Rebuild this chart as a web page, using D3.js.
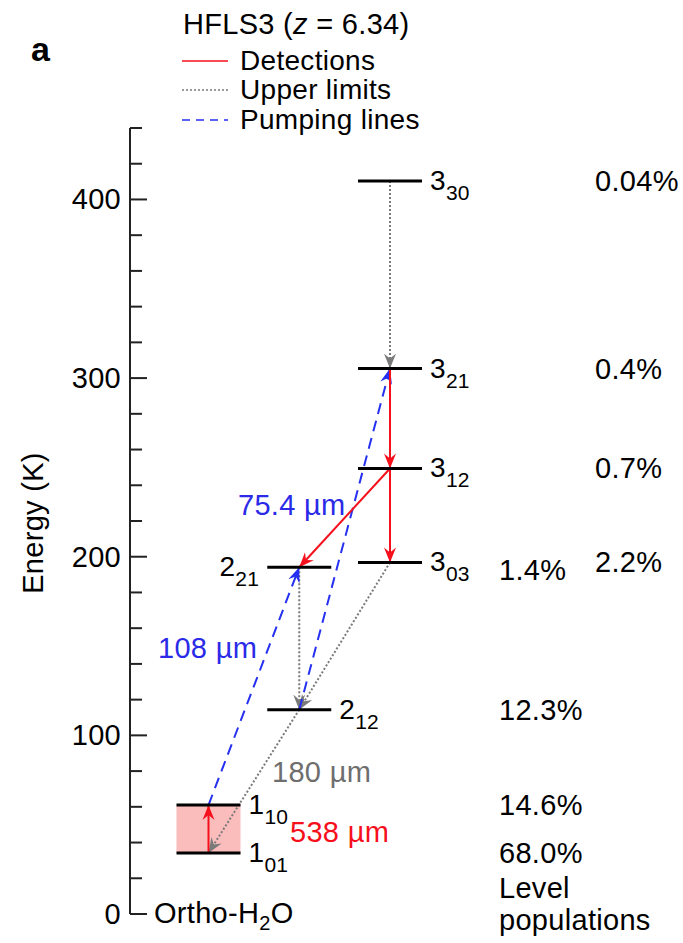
<!DOCTYPE html>
<html>
<head>
<meta charset="utf-8">
<script src="https://cdn.jsdelivr.net/npm/d3@7"></script>
<style>
  html, body { margin: 0; padding: 0; background: #fff; }
  svg { display: block; font-family: "Liberation Sans", Arial, Helvetica, sans-serif; }
  svg text { letter-spacing: 0.3px; }
</style>
</head>
<body>
<svg id="chart" width="683" height="943"></svg>
<script>
// Ortho-H2O rotational levels: name (J, Ka Kc), energy above ground (K), population
const levelJ     = ["1", "1", "2", "2", "3", "3", "3", "3"];
const levelSub   = ["01", "10", "12", "21", "03", "12", "21", "30"];
const levelE     = [34.2, 61.0, 114.4, 194.1, 196.8, 249.4, 305.3, 410.4];
const levelPop   = ["68.0%", "14.6%", "12.3%", "1.4%", "2.2%", "0.7%", "0.4%", "0.04%"];

// Transitions as [source level, target level] index pairs
const detections  = [[0, 1], [6, 5], [5, 4], [5, 3]];
const upperLimits = [[7, 6], [3, 2], [4, 2], [2, 0]];
const pumping     = [[1, 3], [2, 6]];

// Wavelength annotations: text, energy of label, colour class
const lineLabels = [
  { text: "75.4 µm", E: 229, kind: "pump" },
  { text: "108 µm",  E: 149, kind: "pump" },
  { text: "180 µm",  E: 79.5, kind: "limit" },
  { text: "538 µm",  E: 46, kind: "det" }
];

const yTicks = [0, 100, 200, 300, 400];
const yMinor = d3.range(0, 441, 20);

const colors = { det: "#f5101c", limit: "#7a7a7a", pump: "#2530f0" };
const labelColors = { det: "#f5101c", limit: "#6e6e6e", pump: "#2a2ae8" };

const svg = d3.select("#chart");
const y = d3.scaleLinear().domain([0, 440]).range([914, 128]);
const x = d3.scalePoint().domain(["1", "2", "3"]).range([208.5, 390]);
const halfW = 32;
const FS = 29;

const lx = i => x(levelJ[i]);
const ly = i => y(levelE[i]);

// Arrowhead markers
const defs = svg.append("defs");
Object.entries(colors).forEach(([k, c]) => {
  defs.append("marker")
    .attr("id", "arr-" + k)
    .attr("viewBox", "-15 -7 17 14")
    .attr("refX", 0).attr("refY", 0)
    .attr("markerWidth", 17).attr("markerHeight", 14)
    .attr("markerUnits", "userSpaceOnUse")
    .attr("orient", "auto")
    .append("path")
    .attr("d", "M0,0 L-15,-6 L-10,0 L-15,6 Z")
    .attr("fill", c);
});

// Panel letter
svg.append("text").attr("x", 31).attr("y", 61)
  .attr("font-size", 34).attr("font-weight", "bold").text("a");

// Y axis: inward ticks, major every 100 K, minor every 20 K
const axisG = svg.append("g");
axisG.append("line").attr("x1", 130).attr("x2", 130)
  .attr("y1", y(440)).attr("y2", y(0)).attr("stroke", "#222").attr("stroke-width", 2);
axisG.selectAll("line.minor").data(yMinor).join("line")
  .attr("class", "minor")
  .attr("x1", 130).attr("x2", d => d % 100 === 0 ? 147 : 142)
  .attr("y1", d => y(d)).attr("y2", d => y(d))
  .attr("stroke", "#222").attr("stroke-width", 2);
axisG.selectAll("text.tick").data(yTicks).join("text")
  .attr("class", "tick")
  .attr("x", 121).attr("y", d => y(d) + 10)
  .attr("text-anchor", "end").attr("font-size", FS).text(d => d);

svg.append("text")
  .attr("transform", `translate(43,${(y(0) + y(440)) / 2 + 2}) rotate(-90)`)
  .attr("text-anchor", "middle").attr("font-size", FS).text("Energy (K)");

// Ortho-H2O label at the base of the axis
const ortho = svg.append("text").attr("x", 154).attr("y", 923).attr("font-size", FS);
ortho.append("tspan").text("Ortho-H");
ortho.append("tspan").attr("font-size", 20).attr("dy", 7).text("2");
ortho.append("tspan").attr("dy", -7).text("O");

// Shaded band between the two lowest levels
svg.append("rect")
  .attr("x", lx(0) - halfW).attr("width", 2 * halfW)
  .attr("y", ly(1)).attr("height", ly(0) - ly(1))
  .attr("fill", "#fbbcbc");

// Transition lines
function drawTransitions(list, kind, dash) {
  svg.append("g").selectAll("line").data(list).join("line")
    .attr("x1", d => lx(d[0])).attr("y1", d => ly(d[0]))
    .attr("x2", d => lx(d[1])).attr("y2", d => ly(d[1]))
    .attr("stroke", colors[kind]).attr("stroke-width", 2)
    .attr("stroke-dasharray", dash)
    .attr("marker-end", `url(#arr-${kind})`);
}
drawTransitions(upperLimits, "limit", "2,2");
drawTransitions(pumping, "pump", "11,7");
drawTransitions(detections, "det", null);

// Energy levels
svg.append("g").selectAll("line").data(levelE).join("line")
  .attr("x1", (d, i) => lx(i) - halfW).attr("x2", (d, i) => lx(i) + halfW)
  .attr("y1", (d, i) => ly(i)).attr("y2", (d, i) => ly(i))
  .attr("stroke", "#000").attr("stroke-width", 3);

// Level names (2_21 is labelled on the left)
levelE.forEach((e, i) => {
  const left = levelJ[i] === "2" && levelSub[i] === "21";
  const t = svg.append("text")
    .attr("x", left ? lx(i) - halfW - 8 : lx(i) + halfW + 8)
    .attr("y", ly(i) + 9)
    .attr("text-anchor", left ? "end" : "start")
    .attr("font-size", 28);
  t.append("tspan").text(levelJ[i]);
  t.append("tspan").attr("font-size", 21).attr("dy", 10).text(levelSub[i]);
});

// Level populations
levelE.forEach((e, i) => {
  svg.append("text")
    .attr("x", levelJ[i] === "3" ? 595 : 499)
    .attr("y", ly(i) + 10 + (levelJ[i] === "2" && levelSub[i] === "21" ? 3 : 0))
    .attr("font-size", FS).text(levelPop[i]);
});
svg.append("text").attr("x", 499).attr("y", 898).attr("font-size", FS).text("Level");
svg.append("text").attr("x", 499).attr("y", 930).attr("font-size", FS).text("populations");

// Wavelength labels
const labelX = { "75.4 µm": 238, "108 µm": 158, "180 µm": 272, "538 µm": 290 };
svg.append("g").selectAll("text").data(lineLabels).join("text")
  .attr("x", d => labelX[d.text]).attr("y", d => y(d.E) + 10)
  .attr("font-size", FS).attr("fill", d => labelColors[d.kind])
  .text(d => d.text);

// Legend
const legend = svg.append("g");
const title = legend.append("text").attr("x", 183).attr("y", 34).attr("font-size", FS);
title.append("tspan").text("HFLS3 (");
title.append("tspan").attr("font-style", "italic").text("z");
title.append("tspan").text(" = 6.34)");
const legItems = [
  { kind: "det", label: "Detections", dash: null, ly: 61 },
  { kind: "limit", label: "Upper limits", dash: "2,2", ly: 90 },
  { kind: "pump", label: "Pumping lines", dash: "8,6", ly: 120 }
];
legItems.forEach(it => {
  legend.append("line").attr("x1", 182).attr("x2", 228)
    .attr("y1", it.ly).attr("y2", it.ly)
    .attr("stroke", colors[it.kind]).attr("stroke-width", 1.6)
    .attr("stroke-dasharray", it.dash);
  legend.append("text").attr("x", 240).attr("y", it.ly + 9)
    .attr("font-size", 28).text(it.label);
});
</script>
</body>
</html>
